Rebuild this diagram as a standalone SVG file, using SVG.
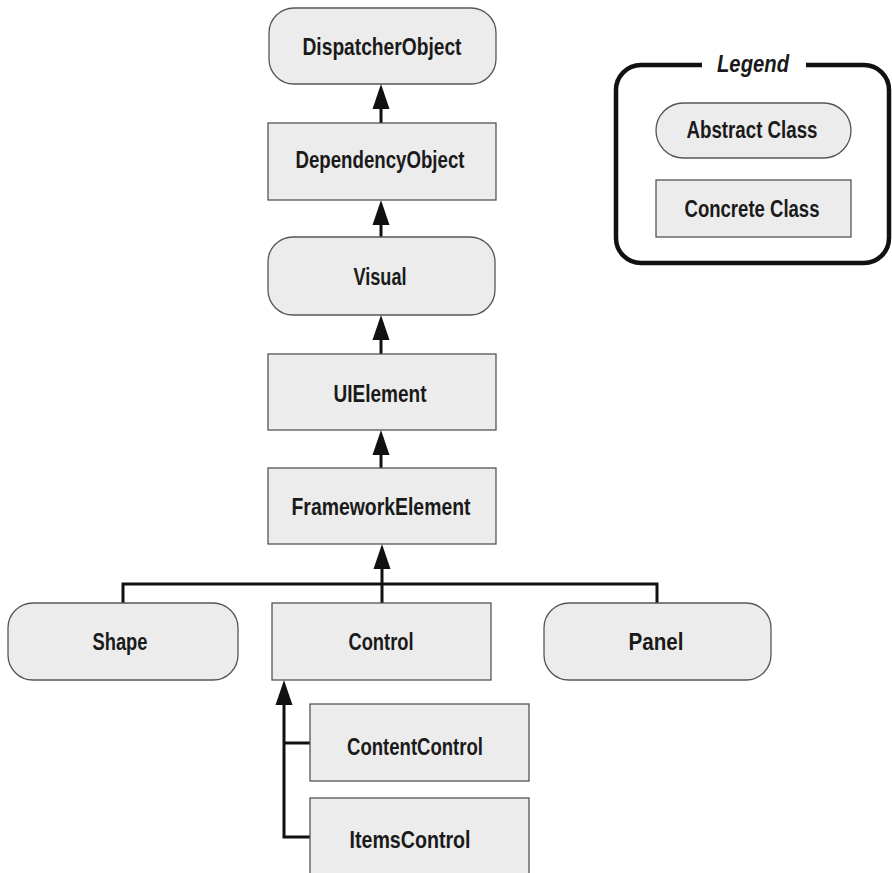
<svg xmlns="http://www.w3.org/2000/svg" width="892" height="873" viewBox="0 0 892 873">
<style>
.box{fill:#ececec;stroke:#555;stroke-width:1.3}
.t{font-family:"Liberation Sans",Arial,sans-serif;font-weight:bold;font-size:23px;fill:#1a1a1a;text-anchor:middle}
.c{fill:none;stroke:#111;stroke-width:3}
.ah{fill:#111}
.lg{fill:none;stroke:#111;stroke-width:4.5}
</style>
<defs>
<path id="ah" d="M0,0 L-8.5,25 L8.5,25 Z"/>
</defs>
<rect width="892" height="873" fill="#fff"/>
<g id="connectors">
<path class="c" d="M381,123 V106"/>
<path class="c" d="M381,237 V222"/>
<path class="c" d="M381,354 V337"/>
<path class="c" d="M381,468 V452"/>
<path class="c" d="M123,603 V584 H657 V603"/>
<path class="c" d="M382,603 V566"/>
<path class="c" d="M310,837 H284 V702"/>
<path class="c" d="M310,743 H284"/>
<use href="#ah" class="ah" x="381" y="84"/>
<use href="#ah" class="ah" x="381" y="200"/>
<use href="#ah" class="ah" x="381" y="315"/>
<use href="#ah" class="ah" x="381" y="430"/>
<use href="#ah" class="ah" x="382" y="544"/>
<use href="#ah" class="ah" x="284" y="680"/>
</g>
<g id="DispatcherObject"><rect class="box" x="269" y="8" width="227" height="76" rx="25"/><text class="t" x="382" y="55" textLength="159" lengthAdjust="spacingAndGlyphs">DispatcherObject</text></g>
<g id="DependencyObject"><rect class="box" x="268" y="123" width="228" height="77"/><text class="t" x="380" y="168" textLength="169" lengthAdjust="spacingAndGlyphs">DependencyObject</text></g>
<g id="Visual"><rect class="box" x="268" y="237" width="227" height="78" rx="25"/><text class="t" x="380" y="285" textLength="53" lengthAdjust="spacingAndGlyphs">Visual</text></g>
<g id="UIElement"><rect class="box" x="268" y="354" width="228" height="76"/><text class="t" x="380" y="402" textLength="93" lengthAdjust="spacingAndGlyphs">UIElement</text></g>
<g id="FrameworkElement"><rect class="box" x="268" y="468" width="228" height="76"/><text class="t" x="381" y="515" textLength="179" lengthAdjust="spacingAndGlyphs">FrameworkElement</text></g>
<g id="Shape"><rect class="box" x="8" y="603" width="230" height="77" rx="25"/><text class="t" x="120" y="650" textLength="55" lengthAdjust="spacingAndGlyphs">Shape</text></g>
<g id="Control"><rect class="box" x="272" y="603" width="219" height="77"/><text class="t" x="381" y="650" textLength="65" lengthAdjust="spacingAndGlyphs">Control</text></g>
<g id="Panel"><rect class="box" x="544" y="603" width="227" height="77" rx="25"/><text class="t" x="656" y="650" textLength="55" lengthAdjust="spacingAndGlyphs">Panel</text></g>
<g id="ContentControl"><rect class="box" x="310" y="704" width="219" height="77"/><text class="t" x="415" y="755" textLength="136" lengthAdjust="spacingAndGlyphs">ContentControl</text></g>
<g id="ItemsControl"><rect class="box" x="310" y="798" width="219" height="80"/><text class="t" x="410" y="848" textLength="121" lengthAdjust="spacingAndGlyphs">ItemsControl</text></g>
<g id="Legend">
<path class="lg" d="M702,65 H641 A25,25 0 0 0 616,90 V238 A25,25 0 0 0 641,263 H864 A25,25 0 0 0 889,238 V90 A25,25 0 0 0 864,65 H806"/>
<text class="t" x="753" y="72" font-style="italic" font-size="21" textLength="72" lengthAdjust="spacingAndGlyphs">Legend</text>
<rect class="box" x="656" y="103" width="195" height="55" rx="27.5"/>
<text class="t" x="752" y="138" textLength="131" lengthAdjust="spacingAndGlyphs">Abstract Class</text>
<rect class="box" x="656" y="180" width="195" height="57"/>
<text class="t" x="752" y="217" textLength="135" lengthAdjust="spacingAndGlyphs">Concrete Class</text>
</g>
</svg>
